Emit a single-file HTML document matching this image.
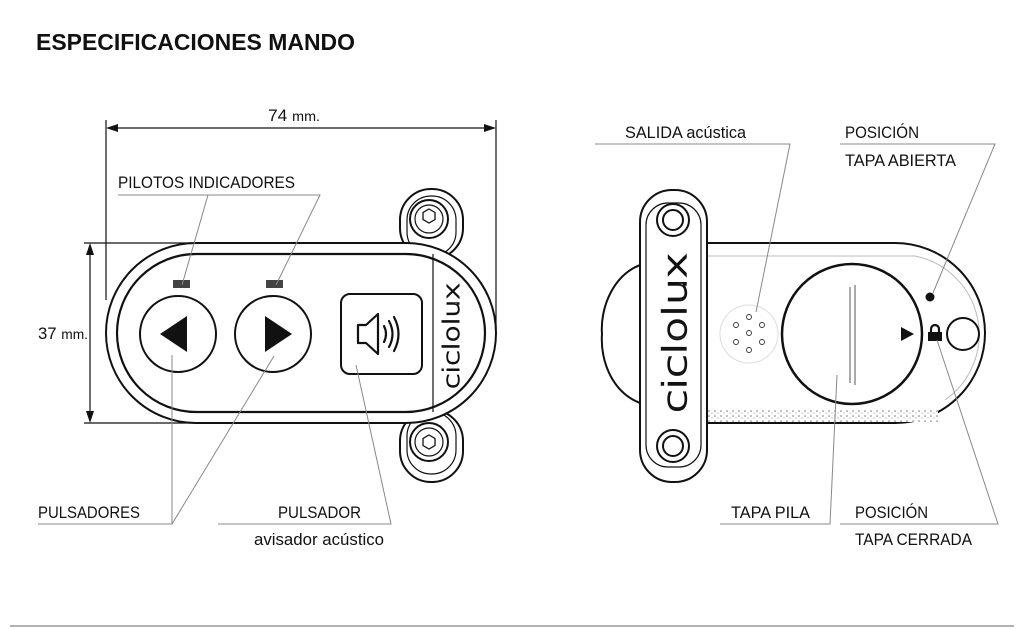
<!DOCTYPE html>
<html><head><meta charset="utf-8"><style>
html,body{margin:0;padding:0;background:#fff;width:1024px;height:629px;overflow:hidden}
svg{display:block}
.l{font-family:"Liberation Sans",sans-serif;font-size:17px;fill:#111}
</style></head><body>
<svg width="1024" height="629" viewBox="0 0 1024 629" xmlns="http://www.w3.org/2000/svg">
<defs>
<pattern id="sp" width="6" height="5" patternUnits="userSpaceOnUse">
<rect width="6" height="5" fill="#fff"/><circle cx="1" cy="1" r="0.8" fill="#777"/><circle cx="4" cy="3" r="0.6" fill="#999"/>
</pattern>
</defs>
<text x="36" y="50" font-family="Liberation Sans,sans-serif" font-weight="bold" font-size="23" fill="#111" textLength="319" lengthAdjust="spacingAndGlyphs">ESPECIFICACIONES MANDO</text>

<!-- dimensions -->
<g stroke="#111" stroke-width="1.2" fill="none">
<line x1="106" y1="120" x2="106" y2="300"/>
<line x1="496" y1="120" x2="496" y2="330"/>
<line x1="112" y1="128" x2="490" y2="128"/>
<line x1="84" y1="243" x2="400" y2="243"/>
<line x1="84" y1="423" x2="200" y2="423"/>
<line x1="90" y1="249" x2="90" y2="417"/>
</g>
<g fill="#111">
<polygon points="106,128 118,124 118,132"/><polygon points="496,128 484,124 484,132"/>
<polygon points="90,243 86,255 94,255"/><polygon points="90,423 86,411 94,411"/>
</g>
<text x="268" y="121" class="l" font-size="18" textLength="52" lengthAdjust="spacingAndGlyphs">74 <tspan font-size="14">mm.</tspan></text>
<text x="38" y="339" class="l" font-size="18" textLength="50" lengthAdjust="spacingAndGlyphs">37 <tspan font-size="14">mm.</tspan></text>

<!-- left device -->
<g stroke="#111" fill="#fff" stroke-width="2">
<rect x="400" y="189" width="63" height="70" rx="31"/>
<rect x="407" y="196" width="49" height="60" rx="24" stroke-width="1.2"/>
<circle cx="429" cy="219" r="19"/><circle cx="429" cy="219" r="14" stroke-width="1.2"/>
<rect x="400" y="410" width="63" height="72" rx="31"/>
<rect x="407" y="412" width="49" height="62" rx="24" stroke-width="1.2"/>
<circle cx="429" cy="442" r="19"/><circle cx="429" cy="442" r="14" stroke-width="1.2"/>
<rect x="106" y="243" width="390" height="180" rx="90"/>
<rect x="117" y="254" width="368" height="158" rx="79" stroke-width="2.2"/>
<line x1="433" y1="254" x2="433" y2="412" stroke-width="1.2"/>
<circle cx="178" cy="334" r="38"/>
<circle cx="273" cy="334" r="38"/>
<rect x="341" y="294" width="81" height="80" rx="9"/>
</g>
<g stroke="#111" fill="none" stroke-width="1.3">
<polygon points="430,212 436,215.5 436,222.5 430,226 424,222.5 424,215.5" transform="translate(-1,-3)"/>
<polygon points="430,436 436,439.5 436,446.5 430,450 424,446.5 424,439.5" transform="translate(-1,-1)"/>
</g>
<rect x="173" y="280" width="17" height="8" fill="#444"/>
<rect x="266" y="280" width="17" height="8" fill="#444"/>
<polygon points="160,334 187,316 187,352" fill="#111"/>
<polygon points="292,334 265,316 265,352" fill="#111"/>
<g stroke="#111" stroke-width="2.2" fill="none" stroke-linejoin="round" stroke-linecap="round">
<path d="M358,325 h8 l12,-11 v40 l-12,-11 h-8 z"/>
<path d="M384,326 q4,8 0,16"/><path d="M389,321 q7,13 0,26"/><path d="M394,317 q9,17 0,34"/>
</g>
<text transform="translate(459,336) rotate(-90)" text-anchor="middle" font-family="DejaVu Sans,sans-serif" font-size="22" font-weight="200" fill="none" stroke="#111" stroke-width="1" textLength="106" lengthAdjust="spacingAndGlyphs">ciclolux</text>

<!-- right device -->
<g stroke="#111" fill="#fff" stroke-width="2">
<path d="M650,262 C612,270 600,310 602,334 C600,360 612,398 650,406 Z"/>
<path d="M700,243 H895 A90,90 0 0 1 895,423 H700 Z"/>
</g>
<path d="M700,256 H915 A80,80 0 0 1 945,400" stroke="#bbb" stroke-width="1" fill="none"/>
<rect x="706" y="410" width="232" height="12" fill="url(#sp)"/>
<g stroke="#111" fill="#fff" stroke-width="2">
<rect x="640" y="190" width="67" height="292" rx="32"/>
<rect x="646" y="203" width="55" height="264" rx="22" stroke-width="1.2"/>
<circle cx="673" cy="220" r="16"/><circle cx="673" cy="220" r="10"/>
<circle cx="673" cy="446" r="16"/><circle cx="673" cy="446" r="10"/>
<circle cx="852" cy="334" r="70" stroke-width="2.5"/>
<circle cx="963" cy="334" r="16"/>
</g>
<text transform="translate(686,333) rotate(-90)" text-anchor="middle" font-family="DejaVu Sans,sans-serif" font-size="32" font-weight="200" fill="none" stroke="#111" stroke-width="1.4" textLength="160" lengthAdjust="spacingAndGlyphs">ciclolux</text>
<line x1="850" y1="287" x2="850" y2="383" stroke="#555" stroke-width="1"/>
<line x1="855" y1="285" x2="855" y2="385" stroke="#555" stroke-width="1"/>
<circle cx="749" cy="334" r="29" fill="none" stroke="#ddd"/>
<g fill="none" stroke="#333" stroke-width="0.9">
<circle cx="749" cy="317" r="2.5"/><circle cx="736" cy="325" r="2.5"/><circle cx="762" cy="325" r="2.5"/>
<circle cx="749" cy="333" r="2.5"/><circle cx="736" cy="342" r="2.5"/><circle cx="762" cy="342" r="2.5"/><circle cx="749" cy="350" r="2.5"/>
</g>
<circle cx="930" cy="297" r="4.5" fill="#111"/>
<polygon points="901,327 914,334 901,341" fill="#111"/>
<rect x="928" y="332" width="14" height="9" fill="#111"/>
<path d="M931,332 v-3 a4,4 0 0 1 8,0 v3" stroke="#111" stroke-width="2.2" fill="none"/>

<!-- leaders -->
<g stroke="#888" stroke-width="1" fill="none">
<polyline points="118,195 320,195 276,285"/>
<line x1="208" y1="195" x2="182" y2="285"/>
<polyline points="38,524 172,524 172,355"/>
<line x1="172" y1="524" x2="274" y2="356"/>
<polyline points="218,524 391,524 356,365"/>
<polyline points="595,144 790,144 756,312"/>
<polyline points="840,144 995,144 933,293"/>
<polyline points="720,524 830,524 837,375"/>
<polyline points="840,524 998,524 937,340"/>
</g>

<g class="l">
<text x="118" y="188" class="l" textLength="177" lengthAdjust="spacingAndGlyphs">PILOTOS INDICADORES</text>
<text x="38" y="518" class="l" textLength="102" lengthAdjust="spacingAndGlyphs">PULSADORES</text>
<text x="278" y="518" class="l" textLength="83" lengthAdjust="spacingAndGlyphs">PULSADOR</text>
<text x="254" y="545" class="l" textLength="130" lengthAdjust="spacingAndGlyphs">avisador acústico</text>
<text x="625" y="138" class="l" textLength="121" lengthAdjust="spacingAndGlyphs">SALIDA acústica</text>
<text x="845" y="138" class="l" textLength="74" lengthAdjust="spacingAndGlyphs">POSICIÓN</text>
<text x="845" y="166" class="l" textLength="111" lengthAdjust="spacingAndGlyphs">TAPA ABIERTA</text>
<text x="731" y="518" class="l" textLength="79" lengthAdjust="spacingAndGlyphs">TAPA PILA</text>
<text x="855" y="518" class="l" textLength="73" lengthAdjust="spacingAndGlyphs">POSICIÓN</text>
<text x="855" y="545" class="l" textLength="117" lengthAdjust="spacingAndGlyphs">TAPA CERRADA</text>
</g>

<line x1="10" y1="626" x2="1014" y2="626" stroke="#999" stroke-width="1.5"/>
</svg>
</body></html>
